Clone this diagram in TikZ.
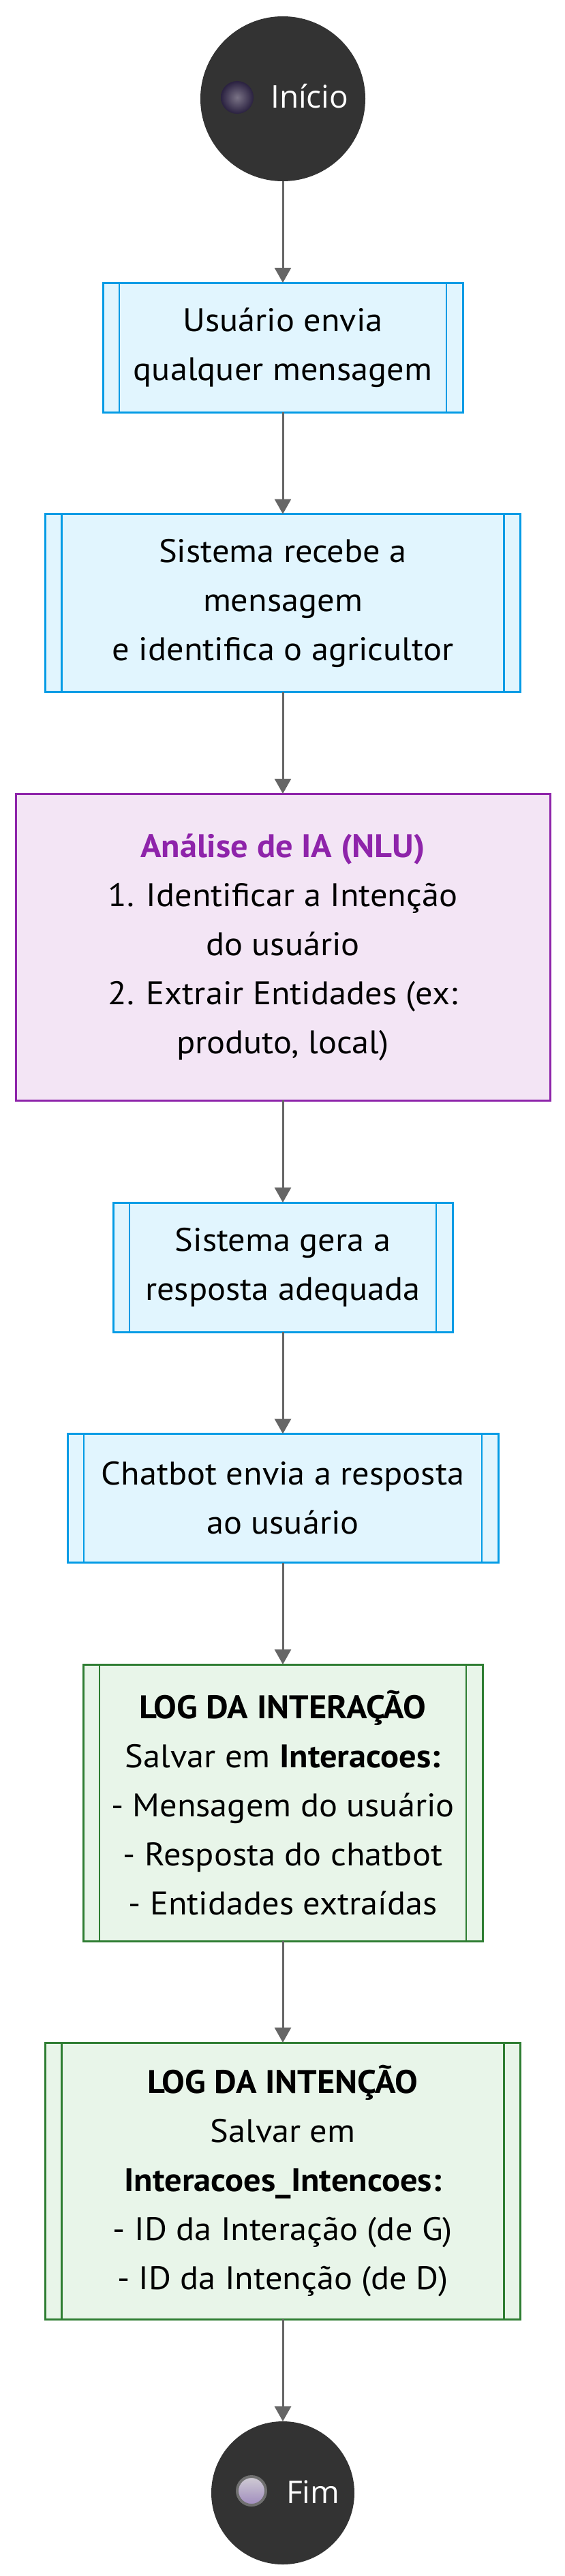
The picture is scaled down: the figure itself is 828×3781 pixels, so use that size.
\documentclass[tikz,border=0pt]{standalone}
\usepackage{fontspec}
\setmainfont{PT Sans}[FakeStretch=1.05]
\newfontfamily\circfont{Open Sans}
\usetikzlibrary{arrows.meta}
\definecolor{bluefill}{HTML}{E1F5FE}
\definecolor{bluedraw}{HTML}{039BE5}
\definecolor{purpfill}{HTML}{F3E5F5}
\definecolor{purpdraw}{HTML}{8E24AA}
\definecolor{greenfill}{HTML}{E8F5E9}
\definecolor{greendraw}{HTML}{2E7D32}
\definecolor{termfill}{HTML}{333333}
\definecolor{arrowgray}{HTML}{666666}
\definecolor{ballin}{HTML}{7A7386}
\definecolor{ballout}{HTML}{2A2140}
\definecolor{endtop}{HTML}{D0CCD4}
\definecolor{endbot}{HTML}{A08CBE}
\definecolor{endring}{HTML}{707070}
\begin{document}
\begin{tikzpicture}[x=1pt,y=-1pt,
  txt/.style={font=\fontsize{48}{72}\selectfont, align=center, text=black, inner sep=0pt, outer sep=0pt},
  bluebox/.style={txt, rectangle, draw=bluedraw, fill=bluefill, line width=3pt},
  purpbox/.style={txt, rectangle, draw=purpdraw, fill=purpfill, line width=3pt},
  greenbox/.style={txt, rectangle, draw=greendraw, fill=greenfill, line width=3pt},
  term/.style={circle, fill=termfill, draw=none, inner sep=0pt, outer sep=0pt},
  termlbl/.style={anchor=base west, text=white, font=\circfont\fontsize{46}{55}\selectfont, inner sep=0pt},
  arr/.style={draw=arrowgray, line width=3pt, -{Triangle[length=22pt,width=24pt]}}
]
\useasboundingbox (0,0) rectangle (828,3781);

% start
\node[term, minimum size=242pt] (start) at (415,145) {};
\shade[inner color=ballin, outer color=ballout] (348,143) circle (24);
\node[termlbl] (startlbl) at (397,159) {Início};

% boxes
\node[bluebox, minimum width=528pt, minimum height=190pt] (B) at (415,510)
  {Usuário envia\\qualquer mensagem};
\node[bluebox, minimum width=697pt, minimum height=261pt] (C) at (415,885)
  {Sistema recebe a\\mensagem\\e identifica o agricultor};
\node[purpbox, minimum width=784pt, minimum height=450pt] (D) at (415,1390)
  {{\bfseries\color{purpdraw}Análise de IA (NLU)}\\1. Identificar a Intenção\\do usuário\\2. Extrair Entidades (ex:\\produto, local)};
\node[bluebox, minimum width=498pt, minimum height=190pt] (E) at (415,1860)
  {Sistema gera a\\resposta adequada};
\node[bluebox, minimum width=632pt, minimum height=189pt] (F) at (415,2199)
  {Chatbot envia a resposta\\ao usuário};
\node[greenbox, minimum width=586pt, minimum height=406pt] (G) at (415,2646)
  {\bfseries LOG DA INTERAÇÃO\\Salvar em \textbf{Interacoes:}\\- Mensagem do usuário\\- Resposta do chatbot\\- Entidades extraídas};
\node[greenbox, minimum width=697pt, minimum height=406pt] (H) at (415,3201)
  {\bfseries LOG DA INTENÇÃO\\Salvar em\\\textbf{Interacoes\_Intencoes:}\\- ID da Interação (de G)\\- ID da Intenção (de D)};

\foreach \n/\c in {B/bluedraw, C/bluedraw, E/bluedraw, F/bluedraw, G/greendraw, H/greendraw} {
  \draw[\c, line width=2.5pt] ([xshift=24pt]\n.north west) -- ([xshift=24pt]\n.south west);
  \draw[\c, line width=2.5pt] ([xshift=-24pt]\n.north east) -- ([xshift=-24pt]\n.south east);
}

% end
\node[term, minimum size=210pt] (end) at (415,3659) {};
\shade[top color=endtop, bottom color=endbot] (369,3656) circle (21);
\draw[endring, line width=4pt] (369,3656) circle (21);
\node[termlbl] (endlbl) at (420,3674) {Fim};

% connectors
\draw[arr] (start) -- (B);
\draw[arr] (B) -- (C);
\draw[arr] (C) -- (D);
\draw[arr] (D) -- (E);
\draw[arr] (E) -- (F);
\draw[arr] (F) -- (G);
\draw[arr] (G) -- (H);
\draw[arr] (H) -- (end);
\end{tikzpicture}
\end{document}
